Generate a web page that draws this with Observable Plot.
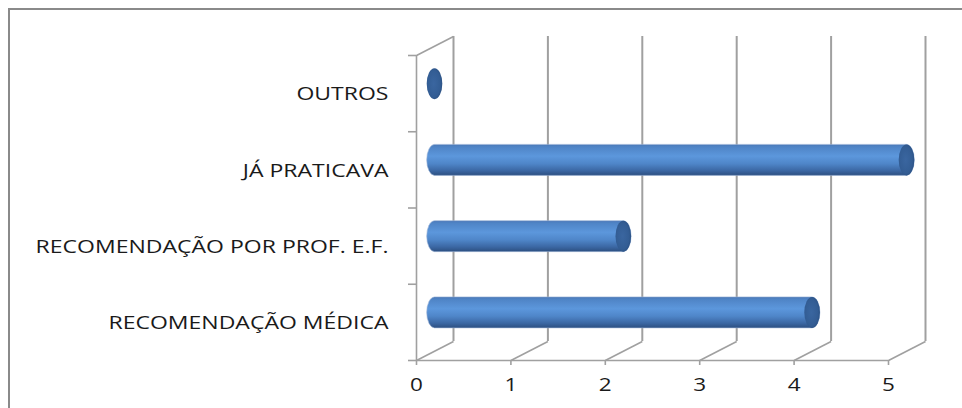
<!DOCTYPE html>
<html>
<head>
<meta charset="utf-8">
<script src="https://cdn.jsdelivr.net/npm/d3@7"></script>
<script src="https://cdn.jsdelivr.net/npm/@observablehq/plot@0.6"></script>
<style>
  html, body { margin: 0; padding: 0; background: #fff; }
  #wrap { position: relative; width: 962px; height: 408px; overflow: hidden; }
  #wrap svg { position: absolute; left: 0; top: 0; }
  #border { position: absolute; left: 8px; top: 8px; width: 2000px; height: 2000px;
            border-top: 2px solid #8a8a8a; border-left: 2px solid #8a8a8a; pointer-events: none; }
</style>
</head>
<body>
<div id="wrap"><div id="border"></div></div>
<script>
// ---- data ----
const categories = ["RECOMENDAÇÃO MÉDICA", "RECOMENDAÇÃO POR PROF. E.F.", "JÁ PRATICAVA", "OUTROS"];
const values = [4, 2, 5, 0];
const xTicks = [0, 1, 2, 3, 4, 5];
const xTickLabels = ["0", "1", "2", "3", "4", "5"];

// ---- geometry (pixels) ----
const X0 = 416, X1 = 888, Y0 = 360, Y1 = 55;
const pxX = (X1 - X0) / 5, pxY = (Y0 - Y1) / categories.length;
const depthX = 37 / pxX, depthY = 19 / pxY;    // 3D depth in data units
const capRx = 7.8, capRy = 15.5;
const capX = capRx / pxX, halfH = capRy / pxY;

const rows = categories.map((c, i) => ({cat: c, value: values[i], i}));
const cx = v => v + depthX / 2;
const cy = i => i + 0.5 + depthY / 2;
const sep = d3.range(categories.length + 1);

const grid = "#a0a0a0";
const font = "'Open Sans', Lato, sans-serif";
const fs = 18;

const chart = Plot.plot({
  width: 962,
  height: 408,
  margin: 0,
  x: {domain: [0, 5], range: [X0, X1], axis: null},
  y: {domain: [0, categories.length], range: [Y0, Y1], axis: null},
  marks: [
    // back wall verticals
    Plot.ruleX(xTicks, {x: d => d + depthX, y1: depthY, y2: categories.length + depthY, stroke: grid, strokeWidth: 2}),
    // floor diagonals
    Plot.link(xTicks, {x1: d => d, y1: 0, x2: d => d + depthX, y2: depthY, stroke: grid, strokeWidth: 1.6}),
    // top of left side wall
    Plot.link([0], {x1: 0, y1: categories.length, x2: depthX, y2: categories.length + depthY, stroke: grid, strokeWidth: 1.6}),
    // front floor line
    Plot.ruleY([0], {x1: 0, x2: 5, stroke: grid, strokeWidth: 1.6}),
    // left axis
    Plot.ruleX([0], {y1: 0, y2: categories.length, stroke: grid, strokeWidth: 1.6}),
    // left category ticks
    Plot.ruleY(sep, {x1: -8 / pxX, x2: 0, stroke: grid, strokeWidth: 1.6}),
    // bottom ticks
    Plot.ruleX(xTicks, {y1: 0, y2: -5 / pxY, stroke: grid, strokeWidth: 1.6}),
    // tick labels
    Plot.text(xTicks, {x: d => d, y: 0, dy: 25, text: (d, k) => xTickLabels[k], fontFamily: font, fontSize: fs, fill: "#1a1a1a", className: "ticklab"}),
    // category labels
    Plot.text(rows, {x: 0, y: d => d.i + 0.5, dx: -28, dy: 1, text: "cat", textAnchor: "end", fontFamily: font, fontSize: fs, fill: "#1a1a1a", className: "catlab"}),
    // cylinder bodies
    Plot.rect(rows.filter(d => d.value > 0), {
      x1: d => cx(0) - capX, x2: d => cx(d.value) + capX,
      y1: d => cy(d.i) - halfH, y2: d => cy(d.i) + halfH,
      rx: capRx, ry: capRy, fill: "url(#cyl)", stroke: "#9db5d8", strokeWidth: 0.6
    }),
    // cylinder end caps
    Plot.rect(rows, {
      x1: d => cx(d.value) - capX, x2: d => cx(d.value) + capX,
      y1: d => cy(d.i) - halfH, y2: d => cy(d.i) + halfH,
      rx: capRx, ry: capRy, fill: "url(#cap)"
    })
  ]
});

const svg = d3.select(chart);
const defs = svg.insert("defs", ":first-child");
const g1 = defs.append("linearGradient").attr("id", "cyl").attr("x1", 0).attr("y1", 0).attr("x2", 0).attr("y2", 1);
[[0, "#4a78b6"], [0.08, "#4f84c6"], [0.38, "#5c97dc"], [0.62, "#4f86c9"], [0.85, "#3b67a3"], [1, "#2c4f80"]]
  .forEach(([o, c]) => g1.append("stop").attr("offset", o).attr("stop-color", c));
const g2 = defs.append("radialGradient").attr("id", "cap").attr("cx", 0.45).attr("cy", 0.5).attr("r", 0.6);
[[0, "#3a66a0"], [0.7, "#335d94"], [1, "#2a4e7e"]]
  .forEach(([o, c]) => g2.append("stop").attr("offset", o).attr("stop-color", c));

document.getElementById("wrap").insertBefore(chart, document.getElementById("border"));

// stretch labels horizontally (reference glyphs are wide), anchored at their end point
const labs = chart.querySelectorAll(".catlab text");
let w = 0;
labs.forEach(t => { w = Math.max(w, t.getComputedTextLength()); });
const sx = w > 0 ? 353 / w : 1;
function stretch(t, s) {
  const tr = t.getAttribute("transform") || "";
  t.setAttribute("transform", tr + ` scale(${s.toFixed(3)},1)`);
}
labs.forEach(t => stretch(t, sx));
chart.querySelectorAll(".ticklab text").forEach(t => stretch(t, Math.min(sx, 1.25)));
</script>
</body>
</html>
